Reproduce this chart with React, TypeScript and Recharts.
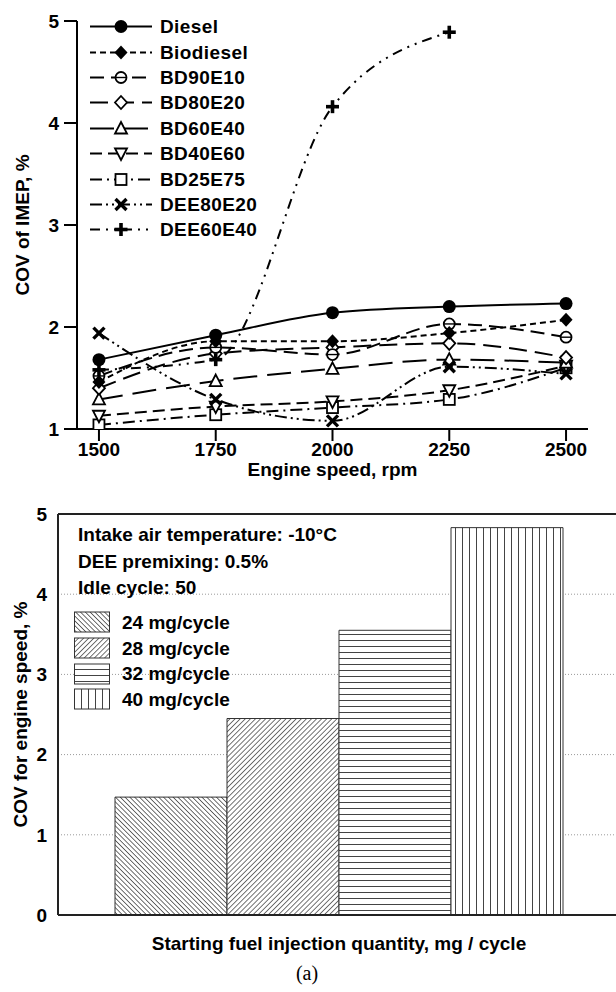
import React from "react";
import {
  LineChart,
  Line,
  XAxis,
  YAxis,
  Legend,
  BarChart,
  Bar,
  Cell,
  CartesianGrid,
  ReferenceLine,
} from "recharts";

// ---- top chart: COV of IMEP vs engine speed ----
const speeds = [1500, 1750, 2000, 2250, 2500];
const diesel = [1.68, 1.92, 2.14, 2.2, 2.23];
const biodiesel = [1.46, 1.86, 1.86, 1.94, 2.07];
const bd90e10 = [1.52, 1.8, 1.73, 2.03, 1.9];
const bd80e20 = [1.4, 1.74, 1.8, 1.84, 1.7];
const bd60e40 = [1.29, 1.47, 1.59, 1.68, 1.65];
const bd40e60 = [1.13, 1.22, 1.27, 1.38, 1.62];
const bd25e75 = [1.04, 1.14, 1.21, 1.29, 1.6];
const dee80e20 = [1.94, 1.29, 1.08, 1.61, 1.54];
const dee60e40 = [1.58, 1.68, 4.16, 4.89, null];
const imepTicks = [1, 2, 3, 4, 5];

// ---- bottom chart: COV for engine speed vs starting fuel quantity ----
const fuelQty = ["24 mg/cycle", "28 mg/cycle", "32 mg/cycle", "40 mg/cycle"];
const covSpeed = [1.47, 2.45, 3.55, 4.83];
const covTicks = [0, 1, 2, 3, 4, 5];
const notes = ["Intake air temperature: -10°C", "DEE premixing: 0.5%", "Idle cycle: 50"];

const FONT = "'Liberation Sans', Arial, Helvetica, sans-serif";

type Shape = "circle" | "diamond" | "circleOpen" | "diamondOpen" | "triUp" | "triDown" | "square" | "x" | "plus";

const series: { key: string; name: string; values: (number | null)[]; dash?: string; shape: Shape }[] = [
  { key: "bd25e75", name: "BD25E75", values: bd25e75, dash: "12 5 2 5", shape: "square" },
  { key: "bd40e60", name: "BD40E60", values: bd40e60, dash: "12 6", shape: "triDown" },
  { key: "bd60e40", name: "BD60E40", values: bd60e40, dash: "24 10", shape: "triUp" },
  { key: "bd80e20", name: "BD80E20", values: bd80e20, dash: "18 8", shape: "diamondOpen" },
  { key: "bd90e10", name: "BD90E10", values: bd90e10, dash: "14 7", shape: "circleOpen" },
  { key: "dee80e20", name: "DEE80E20", values: dee80e20, dash: "12 4 2 4 2 4", shape: "x" },
  { key: "dee60e40", name: "DEE60E40", values: dee60e40, dash: "10 6 2 6 2 6", shape: "plus" },
  { key: "biodiesel", name: "Biodiesel", values: biodiesel, dash: "6 4", shape: "diamond" },
  { key: "diesel", name: "Diesel", values: diesel, shape: "circle" },
];

const legendOrder = ["diesel", "biodiesel", "bd90e10", "bd80e20", "bd60e40", "bd40e60", "bd25e75", "dee80e20", "dee60e40"];

const lineData = speeds.map((rpm, i) => {
  const row: Record<string, number | null> = { rpm };
  series.forEach((s) => (row[s.key] = s.values[i]));
  return row;
});

const barData = fuelQty.map((name, i) => ({ name, value: covSpeed[i] }));
const patternIds = ["pat24", "pat28", "pat32", "pat40"];

function Marker({ shape, cx, cy }: { shape: Shape; cx: number; cy: number }) {
  const sw = 1.8;
  switch (shape) {
    case "circle":
      return <circle cx={cx} cy={cy} r={6.5} fill="#000" />;
    case "diamond":
      return <path d={`M${cx},${cy - 7}L${cx + 6.5},${cy}L${cx},${cy + 7}L${cx - 6.5},${cy}Z`} fill="#000" />;
    case "circleOpen":
      return (
        <g>
          <circle cx={cx} cy={cy} r={5.5} fill="#fff" stroke="#000" strokeWidth={sw} />
          <line x1={cx - 5.5} x2={cx + 5.5} y1={cy} y2={cy} stroke="#000" strokeWidth={1.4} />
        </g>
      );
    case "diamondOpen":
      return <path d={`M${cx},${cy - 6.5}L${cx + 6},${cy}L${cx},${cy + 6.5}L${cx - 6},${cy}Z`} fill="#fff" stroke="#000" strokeWidth={sw} />;
    case "triUp":
      return <path d={`M${cx},${cy - 6.5}L${cx + 6},${cy + 5}L${cx - 6},${cy + 5}Z`} fill="#fff" stroke="#000" strokeWidth={sw} />;
    case "triDown":
      return <path d={`M${cx},${cy + 6.5}L${cx + 6},${cy - 5}L${cx - 6},${cy - 5}Z`} fill="#fff" stroke="#000" strokeWidth={sw} />;
    case "square":
      return <rect x={cx - 5.5} y={cy - 5.5} width={11} height={11} fill="#fff" stroke="#000" strokeWidth={sw} />;
    case "x":
      return (
        <g stroke="#000" strokeWidth={3.4}>
          <line x1={cx - 5.5} y1={cy - 5.5} x2={cx + 5.5} y2={cy + 5.5} />
          <line x1={cx - 5.5} y1={cy + 5.5} x2={cx + 5.5} y2={cy - 5.5} />
        </g>
      );
    case "plus":
      return (
        <g stroke="#000" strokeWidth={3.6}>
          <line x1={cx - 6.5} y1={cy} x2={cx + 6.5} y2={cy} />
          <line x1={cx} y1={cy - 6.5} x2={cx} y2={cy + 6.5} />
        </g>
      );
  }
  return null;
}

const makeDot = (shape: Shape) => (props: any) => {
  const { cx, cy, index, value } = props;
  if (cx == null || cy == null || value == null) return <g key={`${shape}-${index}`} />;
  return (
    <g key={`${shape}-${index}`}>
      <Marker shape={shape} cx={cx} cy={cy} />
    </g>
  );
};

function LineLegend() {
  return (
    <div style={{ fontFamily: FONT, fontWeight: 700, fontSize: 19, color: "#000" }}>
      {legendOrder.map((k) => {
        const s = series.find((d) => d.key === k)!;
        return (
          <div key={k} style={{ display: "flex", alignItems: "center", height: 25.4 }}>
            <svg width={72} height={25} style={{ display: "block" }}>
              <line x1={2} x2={64} y1={12.5} y2={12.5} stroke="#000" strokeWidth={2} strokeDasharray={s.dash} />
              <Marker shape={s.shape} cx={33} cy={12.5} />
            </svg>
            <span style={{ lineHeight: "25px", letterSpacing: 0.4 }}>{s.name}</span>
          </div>
        );
      })}
    </div>
  );
}

function BarLegend() {
  return (
    <div style={{ fontFamily: FONT, fontWeight: 700, fontSize: 19, color: "#000", textAlign: "left" }}>
      {notes.map((t) => (
        <div key={t} style={{ height: 26.5, lineHeight: "26.5px", paddingLeft: 4, whiteSpace: "nowrap" }}>
          {t}
        </div>
      ))}
      <div style={{ marginTop: 8 }}>
        {fuelQty.map((q, i) => (
          <div key={q} style={{ display: "flex", alignItems: "center", height: 25.7 }}>
            <svg width={48} height={22} style={{ display: "block" }}>
              <rect x={0.5} y={1} width={35} height={20} fill={`url(#${patternIds[i]})`} stroke="#333" strokeWidth={1} />
            </svg>
            <span style={{ lineHeight: "25px", whiteSpace: "nowrap" }}>{q}</span>
          </div>
        ))}
      </div>
    </div>
  );
}

function Patterns() {
  const c = "#444";
  return (
    <svg width={0} height={0} style={{ position: "absolute" }}>
      <defs>
        <pattern id="pat24" patternUnits="userSpaceOnUse" width={3.4} height={3.4} patternTransform="rotate(-45)">
          <rect width={3.4} height={3.4} fill="#fff" />
          <line x1={0.4} x2={0.4} y1={0} y2={3.4} stroke={c} strokeWidth={0.8} />
        </pattern>
        <pattern id="pat28" patternUnits="userSpaceOnUse" width={3.6} height={3.6} patternTransform="rotate(45)">
          <rect width={3.6} height={3.6} fill="#fff" />
          <line x1={0.4} x2={0.4} y1={0} y2={3.6} stroke={c} strokeWidth={0.8} />
        </pattern>
        <pattern id="pat32" patternUnits="userSpaceOnUse" width={6} height={6}>
          <rect width={6} height={6} fill="#fff" />
          <line x1={0} x2={6} y1={0.5} y2={0.5} stroke={c} strokeWidth={1} />
        </pattern>
        <pattern id="pat40" patternUnits="userSpaceOnUse" width={7} height={7}>
          <rect width={7} height={7} fill="#fff" />
          <line x1={0.5} x2={0.5} y1={0} y2={7} stroke={c} strokeWidth={1} />
        </pattern>
      </defs>
    </svg>
  );
}

const tickFont = { fontFamily: FONT, fontWeight: 700, fontSize: 19, fill: "#000" };

export default function App() {
  return (
    <div
      style={{
        position: "fixed",
        left: 0,
        top: 0,
        width: 616,
        height: 992,
        overflow: "hidden",
        background: "#fff",
      }}
    >
      <Patterns />
      <div style={{ position: "absolute", left: 0, top: 0 }}>
        <LineChart width={616} height={482} data={lineData} margin={{ top: 21, right: 28, bottom: 0, left: 0 }}>
          <XAxis
            dataKey="rpm"
            type="number"
            domain={[1453, 2547]}
            ticks={speeds}
            allowDataOverflow
            tickSize={12}
            tickMargin={2}
            height={53}
            tick={tickFont}
            axisLine={{ stroke: "#000", strokeWidth: 2 }}
            tickLine={{ stroke: "#000", strokeWidth: 2 }}
            label={{
              value: "Engine speed, rpm",
              position: "insideBottom",
              offset: 6,
              style: { ...tickFont },
            }}
          />
          <YAxis
            type="number"
            domain={[1, 5]}
            ticks={imepTicks}
            allowDataOverflow
            width={77}
            tickSize={13}
            tickMargin={5}
            tick={tickFont}
            axisLine={{ stroke: "#000", strokeWidth: 2 }}
            tickLine={{ stroke: "#000", strokeWidth: 2 }}
            label={{
              value: "COV of IMEP, %",
              angle: -90,
              position: "insideLeft",
              offset: 22,
              style: { ...tickFont, textAnchor: "middle" },
            }}
          />
          {series.map((s) => (
            <Line
              key={s.key}
              type="monotone"
              dataKey={s.key}
              name={s.name}
              stroke="#000"
              strokeWidth={2}
              strokeDasharray={s.dash}
              dot={makeDot(s.shape)}
              activeDot={false}
              isAnimationActive={false}
            />
          ))}
          <Legend
            layout="vertical"
            align="center"
            verticalAlign="middle"
            content={() => <LineLegend />}
            wrapperStyle={{ left: 88, top: 14, width: 200 }}
          />
        </LineChart>
      </div>

      <div style={{ position: "absolute", left: 0, top: 490 }}>
        <BarChart
          width={640}
          height={468}
          data={barData}
          margin={{ top: 24, right: 20, bottom: 0, left: 0 }}
          barCategoryGap={0}
          barGap={0}
        >
          <CartesianGrid vertical={false} stroke="#9a9a9a" strokeDasharray="1 2" />
          <XAxis
            dataKey="name"
            type="category"
            padding={{ left: 57, right: 57 }}
            tick={false}
            tickLine={false}
            height={43}
            axisLine={{ stroke: "#222", strokeWidth: 2 }}
            label={{
              value: "Starting fuel injection quantity, mg / cycle",
              position: "insideBottom",
              offset: 8,
              style: { ...tickFont },
            }}
          />
          <YAxis
            type="number"
            domain={[0, 5]}
            ticks={covTicks}
            allowDataOverflow
            width={58}
            tickSize={0}
            tickMargin={11}
            tick={tickFont}
            axisLine={{ stroke: "#222", strokeWidth: 2 }}
            label={{
              value: "COV for engine speed, %",
              angle: -90,
              position: "insideLeft",
              offset: 20,
              style: { ...tickFont, textAnchor: "middle" },
            }}
          />
          <YAxis
            yAxisId="right"
            orientation="right"
            type="number"
            domain={[0, 5]}
            ticks={covTicks}
            width={0}
            mirror
            tickSize={8}
            tick={{ fontSize: 1, fill: "none" }}
            axisLine={{ stroke: "#222", strokeWidth: 2 }}
            tickLine={{ stroke: "#222", strokeWidth: 1.5 }}
          />
          <ReferenceLine y={5} stroke="#222" strokeWidth={2} />
          <Bar dataKey="value" stroke="#333" strokeWidth={1} isAnimationActive={false}>
            {barData.map((d, i) => (
              <Cell key={d.name} fill={`url(#${patternIds[i]})`} />
            ))}
          </Bar>
          <Legend
            layout="vertical"
            align="center"
            verticalAlign="middle"
            content={() => <BarLegend />}
            wrapperStyle={{ left: 74, top: 32, width: 320 }}
          />
        </BarChart>
      </div>

      <div
        style={{
          position: "absolute",
          left: 0,
          width: 616,
          top: 962,
          textAlign: "center",
          fontFamily: "'Liberation Serif', 'Times New Roman', serif",
          fontSize: 20,
          color: "#000",
        }}
      >
        <span style={{ position: "relative", left: -1 }}>(a)</span>
      </div>
    </div>
  );
}
